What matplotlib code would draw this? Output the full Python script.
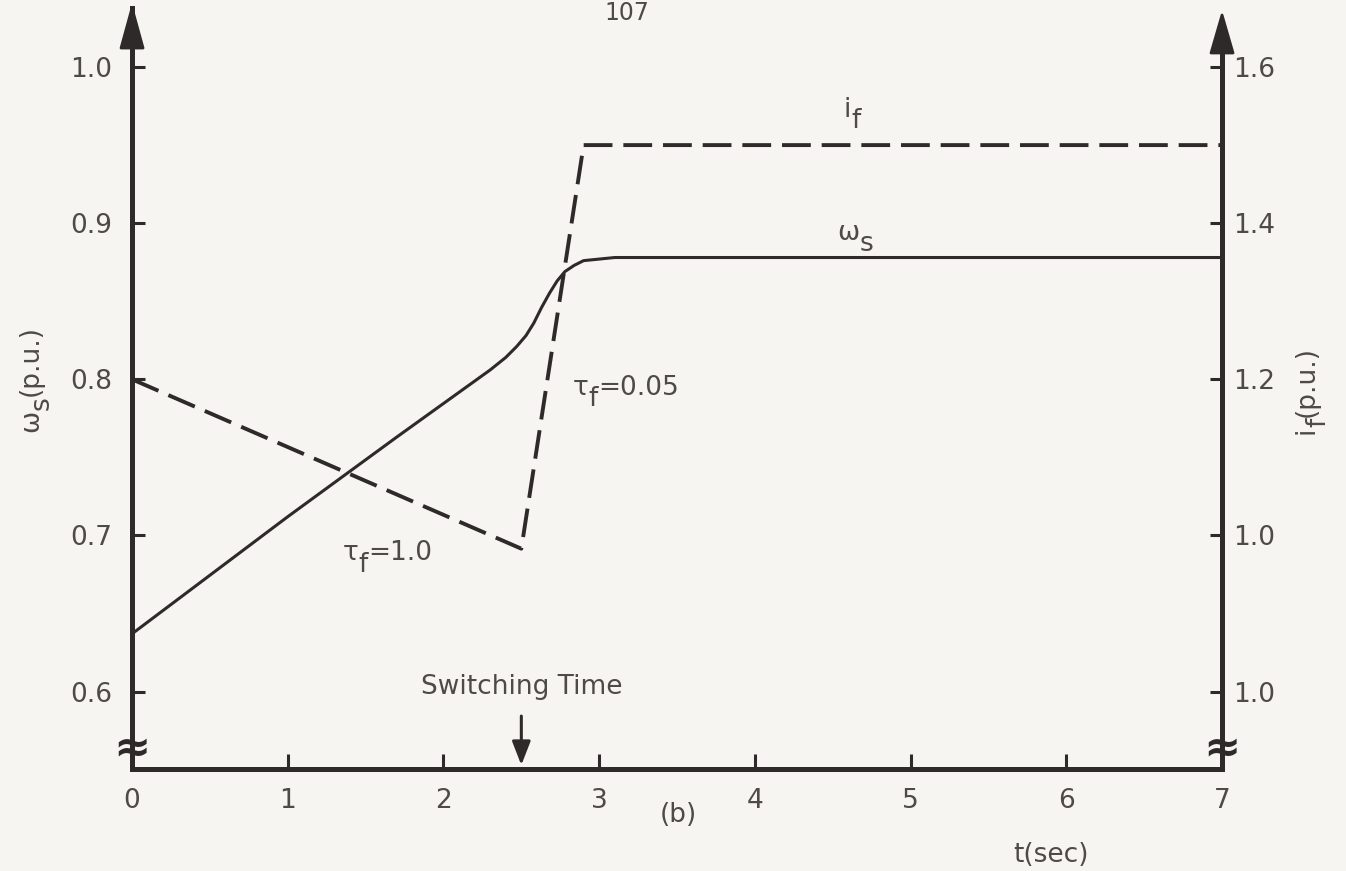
import matplotlib.pyplot as plt
from matplotlib.patches import Polygon
from matplotlib.transforms import offset_copy

# speed response omega_s (left scale) and field current i_f (right scale)
t_omega = [0.0, 1.0, 1.7, 2.3, 2.4, 2.47, 2.53, 2.58, 2.63, 2.68, 2.73,
           2.78, 2.84, 2.9, 3.0, 3.1, 7.0]
omega = [0.637, 0.712, 0.763, 0.806, 0.814, 0.821, 0.828, 0.836, 0.846,
         0.855, 0.863, 0.869, 0.873, 0.876, 0.877, 0.878, 0.878]

t_if = [0.0, 2.5, 2.9, 7.0]
i_f = [1.2, 0.983, 1.5, 1.5]

x_ticks = [0, 1, 2, 3, 4, 5, 6, 7]
left_ticks = [0.6, 0.7, 0.8, 0.9, 1.0]
right_ticks = [0.8, 1.0, 1.2, 1.4, 1.6]
right_labels = ['1.0', '1.0', '1.2', '1.4', '1.6']

t_switch = 2.5

bg = '#f6f5f2'
ink = '#2e2a29'
txt = '#4e4a48'
fs = 19

plt.rcParams['font.family'] = ['DejaVu Sans']

fig = plt.figure(figsize=(13.46, 8.71), dpi=100, facecolor=bg)
ax = fig.add_axes([0.0981, 0.1171, 0.8098, 0.8737])
ax.set_facecolor(bg)
ylo, yhi = 0.5504, 1.0378
ax.set_xlim(0, 7)
ax.set_ylim(ylo, yhi)

# right scale: i_f = 2*omega - 0.4
ax2 = ax.twinx()
ax2.set_ylim(2 * ylo - 0.4, 2 * yhi - 0.4)
for s in ax2.spines.values():
    s.set_visible(False)

ax.plot(t_omega, omega, color=ink, lw=2.2, solid_joinstyle='round',
        solid_capstyle='round')
ax2.plot(t_if, i_f, color=ink, lw=2.8, dashes=(7.4, 2.8))

# axes frame
ax.spines['top'].set_visible(False)
for side in ['left', 'right', 'bottom']:
    ax.spines[side].set_linewidth(3.6)
    ax.spines[side].set_color(ink)
ax.spines['right'].set_bounds(ylo, 1.024)

ax.set_xticks(x_ticks)
ax.set_xticklabels([str(v) for v in x_ticks])
ax.set_yticks(left_ticks)
ax.set_yticklabels(['%.1f' % v for v in left_ticks])
ax2.set_yticks(right_ticks)
ax2.set_yticklabels(right_labels)

ax.tick_params(axis='x', direction='in', length=11, width=2.2, pad=14,
               labelsize=fs, labelcolor=txt, color=ink)
ax.tick_params(axis='y', direction='in', length=9, width=2.2, pad=14,
               labelsize=fs, labelcolor=txt, color=ink)
ax2.tick_params(axis='y', direction='in', length=9, width=2.2, pad=8,
                labelsize=fs, labelcolor=txt, color=ink)

# arrowheads on top of both vertical axes
hw = 11 / 1090
ax.add_patch(Polygon([(-hw, 0.9474), (0, 1.0), (hw, 0.9474)], closed=True,
                     transform=ax.transAxes, clip_on=False, fc=ink, ec=ink,
                     lw=2, joinstyle='round', zorder=5))
ax.add_patch(Polygon([(1 - hw, 0.9409), (1, 0.9908), (1 + hw, 0.9409)],
                     closed=True, transform=ax.transAxes, clip_on=False,
                     fc=ink, ec=ink, lw=2, joinstyle='round', zorder=5))

# axis break marks
for xb in [0, 7]:
    ax.text(xb, 0.5638, '\u2248', ha='center', va='center', fontsize=32,
            fontweight='bold', color=ink, clip_on=False, zorder=6)

renderer = fig.canvas.get_renderer()


def typed_label(x, y, parts, base=None, rotation=0):
    # typewriter-style label: full size subscripts dropped below the line
    base = ax.transData if base is None else base
    adv = 0.0
    for s, drop in parts:
        if rotation == 90:
            tr = offset_copy(base, fig, x=-drop, y=adv, units='points')
        else:
            tr = offset_copy(base, fig, x=adv, y=drop, units='points')
        t = fig.text(x, y, s, transform=tr, fontsize=fs, color=txt,
                     ha='left', va='baseline', rotation=rotation,
                     rotation_mode='anchor')
        bb = t.get_window_extent(renderer)
        adv += (bb.height if rotation == 90 else bb.width) * 72 / fig.dpi


typed_label(4.57, 0.968, [('i', 0), ('f', -8)])
typed_label(4.53, 0.889, [('\u03c9', 0), ('s', -8)])
typed_label(2.83, 0.790, [('\u03c4', 0), ('f', -8), ('=0.05', 0)])
typed_label(1.355, 0.684, [('\u03c4', 0), ('f', -8), ('=1.0', 0)])

# axis titles, written upwards
typed_label(38 / 1346, 1 - 432 / 871, [('\u03c9', 0), ('s', -8), ('(p.u.)', 0)],
            base=fig.transFigure, rotation=90)
typed_label(1314 / 1346, 1 - 434 / 871, [('i', 0), ('f', -8), ('(p.u.)', 0)],
            base=fig.transFigure, rotation=90)

ax.text(t_switch, 0.603, 'Switching Time', fontsize=fs, color=txt,
        ha='center', va='center')
ax.annotate('', xy=(t_switch, 0.5529), xytext=(t_switch, 0.5843),
            arrowprops=dict(arrowstyle='-|>,head_length=0.72,head_width=0.28',
                            lw=2.2, color=ink, shrinkA=0, shrinkB=0,
                            mutation_scale=20))
ax.text(3.51, 0.5208, '(b)', fontsize=fs, color=txt, ha='center',
        va='center', clip_on=False)
ax.text(5.9, 0.4952, 't(sec)', fontsize=fs, color=txt, ha='center',
        va='center', clip_on=False)

fig.text(627 / 1346, 1 - 1 / 871, '107', ha='center', va='top',
         fontsize=17, color=txt)

fig.savefig('out.png', dpi=100, facecolor=bg)
